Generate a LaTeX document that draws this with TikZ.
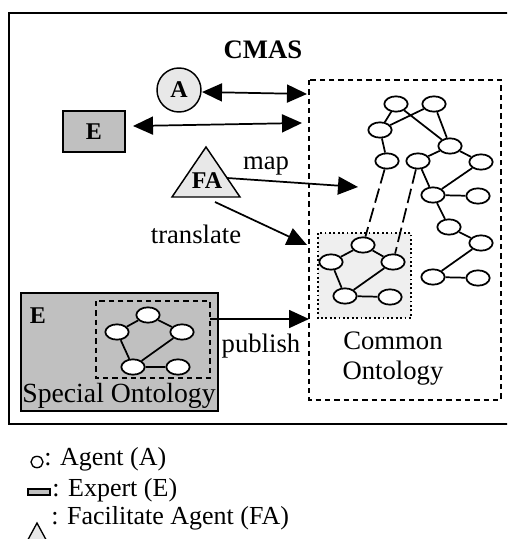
\documentclass[tikz,border=0pt]{standalone}
\usepackage{fontspec}
\setmainfont{Liberation Serif}
\usetikzlibrary{arrows.meta,shapes.geometric}
\definecolor{egray}{HTML}{C0C0C0}
\definecolor{lgray}{HTML}{E8E8E8}
\definecolor{dgray}{HTML}{EFEFEF}
\begin{document}
\begin{tikzpicture}[x=0.75pt,y=-0.75pt,
  every node/.style={font=\fontsize{20}{22.5}\selectfont},
  onode/.style={ellipse,draw,line width=1.3pt,fill=white,minimum width=17.5pt,minimum height=11.5pt,inner sep=0pt},
  lnk/.style={line width=1.3pt},
  arr/.style={line width=1.3pt,-{Triangle[length=15pt,width=13.5pt]}},
  darr/.style={line width=1.3pt,{Triangle[length=15pt,width=13.5pt]}-{Triangle[length=15pt,width=13.5pt]}},
  dbox/.style={draw,line width=1.3pt,dash pattern=on 4pt off 3pt},
  longdash/.style={line width=1.3pt,dash pattern=on 11pt off 4pt},
  bold/.style={font=\fontsize{18}{20}\selectfont\bfseries},
  legtext/.style={anchor=west,inner sep=0pt,font=\fontsize{19.5}{22}\selectfont}
]
\clip (0,0) rectangle (507,539);
% outer frame
\draw[line width=1.4pt] (9,13) rectangle (530,424);
\node[font=\fontsize{20}{22.5}\selectfont\bfseries] (cmas) at (263,50) {CMAS};

% common ontology box
\draw[dbox] (309,80) rectangle (501,400);
\node[align=center] (colab) at (393,359) {Common\\Ontology};
% dotted sub box
\draw[line width=1.3pt,dotted,fill=dgray] (318,233) rectangle (411,318);

% common ontology nodes
\node[onode] (c1) at (396,104) {};
\node[onode] (c2) at (434,104) {};
\node[onode] (c3) at (380,130) {};
\node[onode] (c4) at (450,146) {};
\node[onode] (c5) at (387,161) {};
\node[onode] (c6) at (418,161) {};
\node[onode] (c7) at (481,162) {};
\node[onode] (c8) at (433,195) {};
\node[onode] (c9) at (478,196) {};
\node[onode] (c10) at (449,227) {};
\node[onode] (c11) at (481,243) {};
\node[onode] (c12) at (433,277) {};
\node[onode] (c13) at (478,278) {};
\draw[lnk] (c3)--(c1) (c3)--(c2) (c1)--(c4) (c2)--(c4) (c3)--(c5)
  (c4)--(c6) (c4)--(c7) (c6)--(c8) (c7)--(c8) (c8)--(c9) (c8)--(c10)
  (c10)--(c11) (c11)--(c12) (c12)--(c13);

% dotted box nodes
\node[onode] (d1) at (363,245) {};
\node[onode] (d2) at (331,262) {};
\node[onode] (d3) at (393,262) {};
\node[onode] (d4) at (345,296) {};
\node[onode] (d5) at (390,297) {};
\draw[lnk] (d2)--(d1) (d1)--(d3) (d2)--(d4) (d4)--(d3) (d4)--(d5);
\draw[longdash] (c5)--(d1) (c6)--(d3);

% special ontology
\draw[line width=1.1pt,fill=egray] (21,293) rectangle (218,411);
\node[bold] (e2) at (38,316) {E};
\node[font=\fontsize{20.8}{23}\selectfont] (solab) at (119,396) {Special Ontology};
\draw[dbox] (96,301) rectangle (210,378);
\node[onode] (s1) at (148,315) {};
\node[onode] (s2) at (117,332) {};
\node[onode] (s3) at (182,332) {};
\node[onode] (s4) at (133,367) {};
\node[onode] (s5) at (178,367) {};
\draw[lnk] (s2)--(s1) (s1)--(s3) (s2)--(s4) (s4)--(s3) (s4)--(s5);

% agent, expert, facilitator
\node[circle,draw,line width=1.1pt,fill=lgray,minimum size=33pt,inner sep=0pt,bold] (A) at (179,90) {A};
\node[draw,line width=1.1pt,fill=egray,minimum width=46.5pt,minimum height=30.75pt,inner sep=0pt,bold] (E) at (94,131.5) {E};
\draw[line width=1.1pt,fill=lgray] (206,147) -- (240,197) -- (172,197) -- cycle;
\node[bold] (FA) at (207,181) {FA};

% arrow end points
\coordinate (aL) at (202,92);
\coordinate (aR) at (307,94);
\coordinate (eL) at (133,126);
\coordinate (eR) at (302,123);
\coordinate (mS) at (227,178);
\coordinate (mE) at (358,187);
\coordinate (tS) at (215,202);
\coordinate (tE) at (307,245);
\coordinate (pS) at (210,319);
\coordinate (pE) at (309,319);

\draw[darr] (aL) -- (aR);
\draw[darr] (eL) -- (eR);
\draw[arr] (mS) -- (mE);
\draw[arr] (tS) -- (tE);
\draw[arr] (pS) -- (pE);
\node (maplab) at (266,166) {map};
\node (tlab) at (196,234) {translate};
\node (plab) at (261,346) {publish};

% legend
\node[ellipse,draw,line width=1pt,fill=white,minimum width=9pt,minimum height=8.5pt,inner sep=0pt] (la) at (37,462) {};
\node[legtext] (lat) at (44,459) {: Agent (A)};
\draw[line width=1pt,fill=egray] (28,489) rectangle (50,495);
\node[legtext] (let) at (52,490) {: Expert (E)};
\draw[line width=1pt,fill=lgray] (37,523) -- (50,547) -- (24,547) -- cycle;
\node[legtext] (lft) at (51,518) {: Facilitate Agent (FA)};
\end{tikzpicture}
\end{document}
